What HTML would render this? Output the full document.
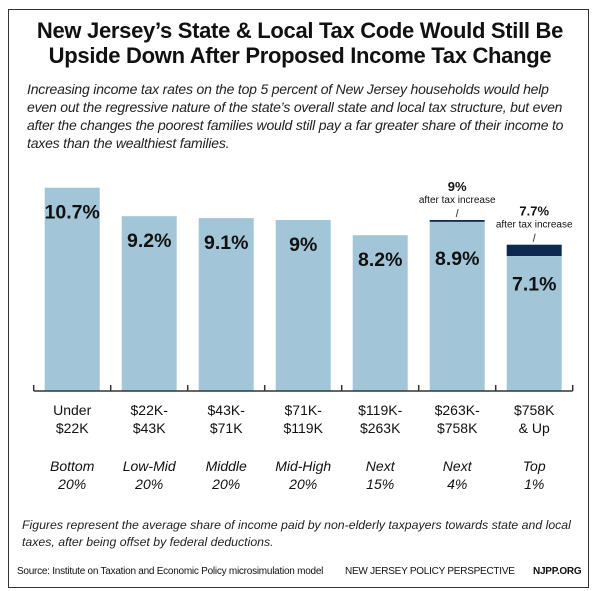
<!DOCTYPE html>
<html><head><meta charset="utf-8"><style>
html,body{margin:0;padding:0;background:#fff;}
body{width:600px;height:591px;position:relative;overflow:hidden;font-family:"Liberation Sans",Arial,sans-serif;}
#frame{position:absolute;left:8px;top:9px;width:581px;height:579px;border:1.5px solid #333;box-sizing:border-box;}
.t{position:absolute;left:0;width:600px;text-align:center;font-weight:bold;font-size:22px;color:#111;letter-spacing:-0.3px;}
.sub{position:absolute;left:27px;top:80px;width:570px;font-style:italic;font-size:14px;line-height:18px;color:#222;white-space:nowrap;letter-spacing:-0.2px;}
.foot{position:absolute;left:22px;top:517px;width:570px;font-style:italic;font-size:12.3px;line-height:17px;color:#222;white-space:nowrap;}
.src{position:absolute;top:566px;font-size:10px;color:#111;white-space:nowrap;letter-spacing:-0.25px;}
</style></head><body>
<div id="frame"></div>
<div class="t" style="top:18px">New Jersey’s State &amp; Local Tax Code Would Still Be</div>
<div class="t" style="top:43px">Upside Down After Proposed Income Tax Change</div>
<div class="sub">Increasing income tax rates on the top 5 percent of New Jersey households would help<br>even out the regressive nature of the state’s overall state and local tax structure, but even<br>after the changes the poorest families would still pay a far greater share of their income to<br>taxes than the wealthiest families.</div>
<svg id="chart" width="600" height="591" style="position:absolute;left:0;top:0"></svg>
<div class="foot">Figures represent the average share of income paid by non-elderly taxpayers towards state and local<br>taxes, after being offset by federal deductions.</div>
<div class="src" style="left:17px">Source: Institute on Taxation and Economic Policy microsimulation model</div>
<div class="src" style="left:345px">NEW JERSEY POLICY PERSPECTIVE</div>
<div class="src" style="left:533px;font-weight:bold">NJPP.ORG</div>
<script>
const incomeLine1 = ["Under","$22K-","$43K-","$71K-","$119K-","$263K-","$758K"];
const incomeLine2 = ["$22K","$43K","$71K","$119K","$263K","$758K","& Up"];
const groupLine1 = ["Bottom","Low-Mid","Middle","Mid-High","Next","Next","Top"];
const groupLine2 = ["20%","20%","20%","20%","15%","4%","1%"];
const currentRate = [10.7,9.2,9.1,9,8.2,8.9,7.1];
const afterIncrease = [null,null,null,null,null,9,7.7];
const currentLabels = ["10.7%","9.2%","9.1%","9%","8.2%","8.9%","7.1%"];
const afterLabels = [null,null,null,null,null,"9%","7.7%"];

const svg = document.getElementById('chart');
const NS = 'http://www.w3.org/2000/svg';
const axisY = 391, pxPerUnit = 19, left0 = 33.7, pitch = 77, barW = 55;
const yScale = v => axisY - v * pxPerUnit;
const xLeft = i => left0 + pitch * i + 11;
const xCenter = i => xLeft(i) + barW / 2;
function mk(tag, attrs){const e=document.createElementNS(NS,tag);for(const k in attrs)e.setAttribute(k,attrs[k]);svg.appendChild(e);return e;}
function txt(x,y,s,size,weight,style){const e=mk('text',{x:x,y:y,'text-anchor':'middle','font-size':size,'font-weight':weight||'normal','font-style':style||'normal','font-family':'Liberation Sans, Arial, sans-serif',fill:'#111'});e.textContent=s;return e;}

currentRate.forEach((v,i)=>{
  const x = xLeft(i);
  if (afterIncrease[i] !== null) {
    const d = mk('rect',{x:x,y:yScale(afterIncrease[i]),width:barW,height:yScale(v)-yScale(afterIncrease[i]),fill:'#0d2a4e'});
    
    
    const at = txt(xCenter(i), yScale(afterIncrease[i]) - 29, afterLabels[i], 13, 'bold');
    
    
    const an = txt(xCenter(i), yScale(afterIncrease[i]) - 17, 'after tax increase', 10);
    
    
    const ln = mk('line',{x1:xCenter(i)-1,y1:yScale(afterIncrease[i])-3,x2:xCenter(i)+1,y2:yScale(afterIncrease[i])-11,stroke:'#444','stroke-width':1});
    
    
  }
  const b = mk('rect',{x:x,y:yScale(v),width:barW,height:axisY-yScale(v),fill:'#a2c6d8'});
  
  
  const off = i===5 ? 45 : (i===6 ? 46 : 31);
  const vt = txt(xCenter(i), yScale(afterIncrease[i]!==null?afterIncrease[i]:v) + off, currentLabels[i], 19.5, 'bold');
  
  
  [[incomeLine1,415],[incomeLine2,433],[groupLine1,471],[groupLine2,489]].forEach((p,k)=>{
    const t = txt(xCenter(i), p[1], p[0][i], 14, 'normal', k>=2?'italic':'normal');
    
    
  });
});
const ax = mk('line',{x1:left0,y1:axisY,x2:left0+pitch*7,y2:axisY,stroke:'#333','stroke-width':1.5});


for(let i=0;i<=7;i++){
  const tk = mk('line',{x1:left0+pitch*i,y1:axisY,x2:left0+pitch*i,y2:axisY-6,stroke:'#333','stroke-width':1.5});
  
  
}
</script>
</body></html>
